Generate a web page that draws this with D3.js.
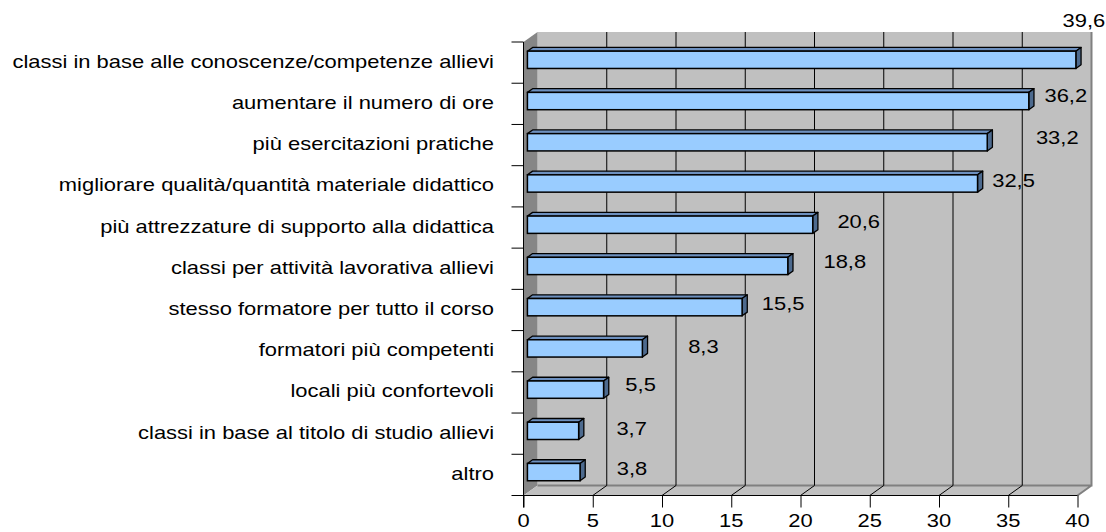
<!DOCTYPE html>
<html>
<head>
<meta charset="utf-8">
<script src="https://cdn.jsdelivr.net/npm/d3@7"></script>
<style>
  html, body { margin: 0; padding: 0; background: #fff; }
  text { font-family: "Liberation Sans", Arial, sans-serif; fill: #000; }
</style>
</head>
<body>
<div id="chart"></div>
<script>
// categories, top to bottom
var categories = [
  "classi in base alle conoscenze/competenze allievi",
  "aumentare il numero di ore",
  "più esercitazioni pratiche",
  "migliorare qualità/quantità materiale didattico",
  "più attrezzature di supporto alla didattica",
  "classi per attività lavorativa allievi",
  "stesso formatore per tutto il corso",
  "formatori più competenti",
  "locali più confortevoli",
  "classi in base al titolo di studio allievi",
  "altro"
];
var values = [39.6, 36.2, 33.2, 32.5, 20.6, 18.8, 15.5, 8.3, 5.5, 3.7, 3.8];
var valueLabels = ["39,6", "36,2", "33,2", "32,5", "20,6", "18,8", "15,5", "8,3", "5,5", "3,7", "3,8"];
var tickValues = [0, 5, 10, 15, 20, 25, 30, 35, 40];

// where the labels sit, relative to the end of each bar (px)
var labelNudgeX = [8, 37, 70, 36, 46, 57, 41, 61, 37, 53, 52];
var labelNudgeY = [-36, -2, -1, 1, 0.5, -0.5, 0, 2, -1, 1.5, 0.5];

var width = 1106, height = 532;
var DX = 14, DY = -10;          // depth of the 3d box
var fr = 0.28, bk = 0.65;       // bar front / back depth
var sx = 1.24;                  // text is stretched horizontally
var fontSize = 17.7;

var svg = d3.select("#chart").append("svg")
  .attr("width", width)
  .attr("height", height);

var x = d3.scaleLinear().domain([0, 40]).range([523.5, 1077.5]);
var y = d3.scaleBand().domain(categories).range([42, 495.5]);

var x0 = x(0), x1 = x(40), yTop = y.range()[0], yBot = y.range()[1];

function stretchedText(g, tx, ty, str, anchor){
  return g.append("text")
    .attr("transform", "translate(" + tx + "," + ty + ") scale(" + sx + ",1)")
    .attr("text-anchor", anchor)
    .style("font-size", fontSize + "px")
    .text(str);
}

// walls
var walls = svg.append("g");
// back wall
walls.append("rect")
  .attr("x", x0 + DX).attr("y", yTop + DY)
  .attr("width", x1 - x0).attr("height", yBot - yTop)
  .attr("fill", "#c0c0c0");
// left wall
walls.append("polygon")
  .attr("points", [[x0, yTop], [x0 + DX, yTop + DY], [x0 + DX, yBot + DY], [x0, yBot]].join(" "))
  .attr("fill", "#868686");
// floor
walls.append("polygon")
  .attr("points", [[x0, yBot], [x1, yBot], [x1 + DX, yBot + DY], [x0 + DX, yBot + DY]].join(" "))
  .attr("fill", "#c0c0c0");
// wall borders
walls.append("path")
  .attr("d", "M" + (x0 + DX) + "," + (yBot + DY) + "H" + (x1 + DX) + "V" + (yTop + DY) +
        "M" + (x1) + "," + yBot + "L" + (x1 + DX) + "," + (yBot + DY))
  .attr("fill", "none")
  .attr("stroke", "#808080")
  .attr("stroke-width", 2);

// gridlines on back wall + floor
var grid = svg.append("g");
grid.selectAll(".gl")
  .data(tickValues.slice(1, -1))
  .enter().append("path")
  .attr("d", function(d){
    return "M" + x(d) + "," + yBot + "L" + (x(d) + DX) + "," + (yBot + DY) + "V" + (yTop + DY);
  })
  .attr("fill", "none")
  .attr("stroke", "#000")
  .attr("stroke-width", 1);

// bars
var bh = y.bandwidth() * 0.42;
var bars = svg.append("g")
  .selectAll("g")
  .data(values)
  .enter().append("g");

function yc(i){ return y(categories[i]) + y.bandwidth() / 2; }

bars.append("polygon") // top
  .attr("points", function(d, i){
    var t = yc(i) - bh / 2, a = x(0), b = x(d);
    return [[a + fr * DX, t + fr * DY], [b + fr * DX, t + fr * DY],
            [b + bk * DX, t + bk * DY], [a + bk * DX, t + bk * DY]].join(" ");
  })
  .attr("fill", "#6d90bf")
  .attr("stroke", "#000")
  .attr("stroke-width", 1.3)
  .attr("stroke-linejoin", "round");

bars.append("polygon") // side
  .attr("points", function(d, i){
    var t = yc(i) - bh / 2, bt = t + bh, b = x(d);
    return [[b + fr * DX, t + fr * DY], [b + bk * DX, t + bk * DY],
            [b + bk * DX, bt + bk * DY], [b + fr * DX, bt + fr * DY]].join(" ");
  })
  .attr("fill", "#4d6a8e")
  .attr("stroke", "#000")
  .attr("stroke-width", 1.3)
  .attr("stroke-linejoin", "round");

bars.append("rect") // front
  .attr("x", x(0) + fr * DX)
  .attr("y", function(d, i){ return yc(i) - bh / 2 + fr * DY; })
  .attr("width", function(d){ return x(d) - x(0); })
  .attr("height", bh)
  .attr("fill", "#99ccff")
  .attr("stroke", "#000")
  .attr("stroke-width", 1.5);

// value labels
var vl = svg.append("g");
values.forEach(function(v, i){
  stretchedText(vl, x(v) + fr * DX + labelNudgeX[i], yc(i) + labelNudgeY[i], valueLabels[i], "middle");
});

// bottom axis
var xAxis = d3.axisBottom(x)
  .tickValues(tickValues)
  .tickSize(12)
  .tickSizeOuter(0)
  .tickFormat("");
var gx = svg.append("g")
  .attr("transform", "translate(0," + yBot + ")")
  .call(xAxis);
gx.select(".domain").attr("d", "M" + (x0 - 12) + ",0H" + x1).attr("stroke", "#000");
gx.selectAll(".tick line").attr("stroke", "#000");
tickValues.forEach(function(t){
  stretchedText(svg, x(t), 527, String(t), "middle");
});

// left axis
var ga = svg.append("g");
ga.append("line")
  .attr("x1", x0).attr("x2", x0)
  .attr("y1", yTop).attr("y2", yBot + 12)
  .attr("stroke", "#000");
ga.selectAll(".lt")
  .data(categories.map(function(c){ return y(c); }))
  .enter().append("line")
  .attr("x1", x0 - 12).attr("x2", x0)
  .attr("y1", function(d){ return d; }).attr("y2", function(d){ return d; })
  .attr("stroke", "#000");

categories.forEach(function(c, i){
  stretchedText(ga, 494, yc(i) + 5, c, "end");
});
</script>
</body>
</html>
